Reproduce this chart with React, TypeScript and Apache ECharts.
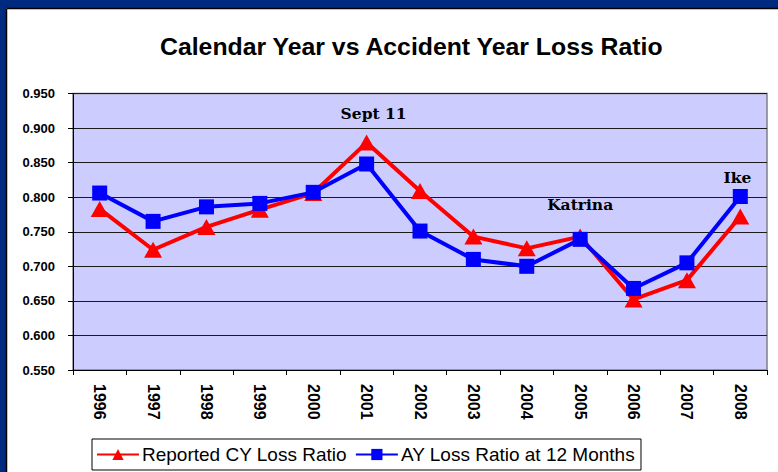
import React, { useEffect, useRef } from "react";
import * as echarts from "echarts";

const years = ["1996", "1997", "1998", "1999", "2000", "2001", "2002", "2003", "2004", "2005", "2006", "2007", "2008"];
const reportedCY = [0.783, 0.724, 0.757, 0.782, 0.806, 0.879, 0.809, 0.743, 0.726, 0.743, 0.652, 0.680, 0.772];
const ayAt12 = [0.806, 0.765, 0.786, 0.791, 0.807, 0.848, 0.751, 0.710, 0.700, 0.739, 0.668, 0.705, 0.801];
const yTicks = [0.55, 0.6, 0.65, 0.7, 0.75, 0.8, 0.85, 0.9, 0.95];
const annotations = [
  { year: "2001", value: 0.921, text: "Sept 11" },
  { year: "2005", value: 0.789, text: "Katrina" },
  { year: "2008", value: 0.828, text: "Ike" },
];

const SANS = 'Arial, "Liberation Sans", sans-serif';

export default function App() {
  const ref = useRef<HTMLDivElement>(null);
  useEffect(() => {
    document.body.style.margin = "0";
    const chart = echarts.init(ref.current!, null, { renderer: "svg" });
    chart.setOption({
      animation: false,
      backgroundColor: "#ffffff",
      title: {
        text: "Calendar Year vs Accident Year Loss Ratio",
        left: 155,
        top: 29,
        textStyle: { fontFamily: SANS, fontWeight: "bold", fontSize: 24.8, color: "#000" },
      },
      graphic: [
        { type: "rect", left: 0, top: 0, shape: { width: 778, height: 8 }, style: { fill: "#002A80" }, z: 100 },
        { type: "rect", left: 0, top: 0, shape: { width: 6, height: 472 }, style: { fill: "#002A80" }, z: 100 },
        { type: "line", shape: { x1: 6.5, y1: 8.5, x2: 778, y2: 8.5 }, style: { stroke: "#000", lineWidth: 1.5 }, z: 100 },
        { type: "line", shape: { x1: 6.5, y1: 8.5, x2: 6.5, y2: 472 }, style: { stroke: "#000", lineWidth: 1.5 }, z: 100 },
      ],
      grid: {
        left: 73,
        top: 93.5,
        right: 11,
        bottom: 102,
        show: true,
        backgroundColor: "#CCCCFF",
        borderColor: "#808080",
        borderWidth: 1.5,
      },
      legend: {
        left: 92,
        top: 439,
        padding: [6, 6, 6, 4],
        borderColor: "#000",
        borderWidth: 1,
        itemWidth: 42,
        itemHeight: 14,
        itemGap: 8,
        textStyle: { fontFamily: SANS, fontSize: 19, color: "#000", padding: [0, 0, 0, -2] },
        data: ["Reported CY Loss Ratio", "AY Loss Ratio at 12 Months"],
      },
      xAxis: {
        type: "category",
        data: years,
        boundaryGap: true,
        axisLine: { lineStyle: { color: "#000", width: 1 } },
        axisTick: { show: true, alignWithLabel: false, length: 5, lineStyle: { color: "#000" } },
        axisLabel: {
          rotate: -90,
          margin: 14,
          fontFamily: SANS,
          fontWeight: "bold",
          fontSize: 16,
          color: "#000",
          interval: 0,
        },
        splitLine: { show: false },
      },
      yAxis: {
        type: "value",
        min: yTicks[0],
        max: yTicks[yTicks.length - 1],
        interval: 0.05,
        axisLine: { show: true, lineStyle: { color: "#000", width: 1 } },
        axisTick: { show: true, length: 5, lineStyle: { color: "#000" } },
        axisLabel: {
          margin: 18,
          fontFamily: SANS,
          fontWeight: "bold",
          fontSize: 13,
          color: "#000",
          formatter: (v: number) => v.toFixed(3),
        },
        splitLine: { show: true, lineStyle: { color: "#1a1a1a", width: 1 } },
      },
      series: [
        {
          name: "Reported CY Loss Ratio",
          type: "line",
          data: reportedCY,
          color: "#FF0000",
          lineStyle: { color: "#FF0000", width: 4 },
          itemStyle: { color: "#FF0000" },
          symbol: "triangle",
          symbolSize: [18, 16],
          z: 2,
        },
        {
          name: "AY Loss Ratio at 12 Months",
          type: "line",
          data: ayAt12,
          color: "#0000FF",
          lineStyle: { color: "#0000FF", width: 4 },
          itemStyle: { color: "#0000FF" },
          symbol: "rect",
          symbolSize: 15,
          z: 3,
          markPoint: {
            symbol: "circle",
            symbolSize: 0,
            silent: true,
            data: annotations.map((a) => ({
              coord: [a.year, a.value],
              value: a.text,
              label: {
                show: true,
                position: "inside",
                formatter: a.text,
                fontFamily: '"DejaVu Serif", "Liberation Serif", serif',
                fontWeight: "bold",
                fontSize: 15.5,
                color: "#000",
                offset: a.year === "2001" ? [7, 0] : a.year === "2008" ? [-3, 0] : [0, 0],
              },
            })),
          },
        },
      ],
    });
    return () => chart.dispose();
  }, []);
  return <div ref={ref} style={{ width: 778, height: 472 }} />;
}
